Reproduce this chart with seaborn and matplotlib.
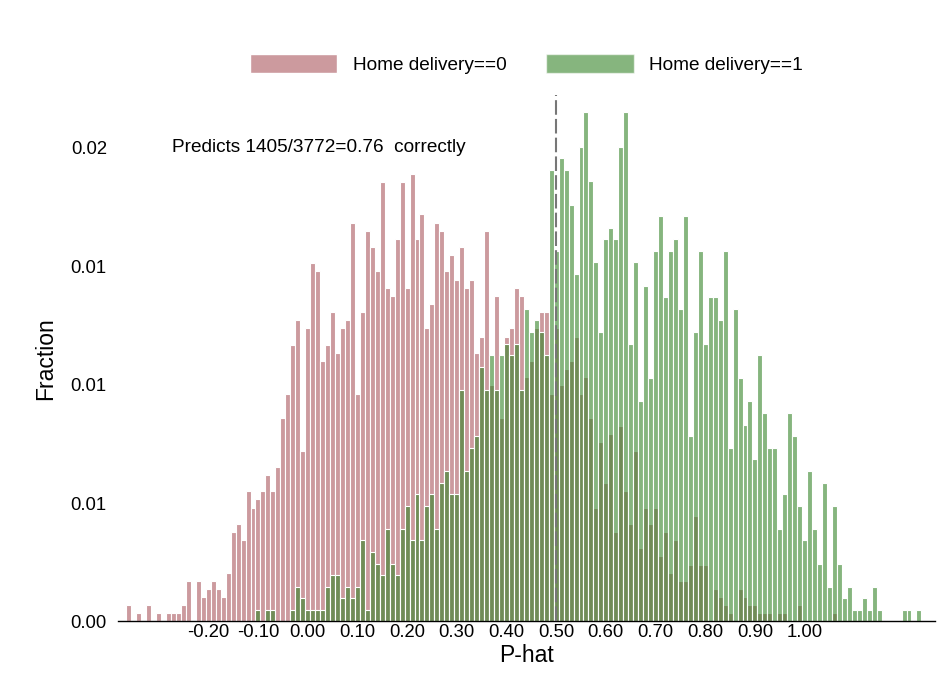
import numpy as np
import pandas as pd
import matplotlib
matplotlib.use("Agg")
import matplotlib.pyplot as plt
from matplotlib.patches import Patch
import seaborn as sns

# counts per bin (bins of width 0.01 centred on -0.36 ... 1.23)
red_counts = [
    2, 0, 1, 0, 2, 0, 1, 0, 1, 1, 1, 2, 5, 0, 5, 3, 4, 5, 4, 3,
    6, 11, 12, 10, 16, 14, 15, 16, 18, 16, 19, 25, 28, 34, 37, 21, 36, 44, 43, 32,
    34, 38, 33, 36, 37, 49, 28, 38, 48, 46, 43, 54, 41, 40, 47, 54, 41, 55, 47, 50,
    36, 39, 49, 48, 43, 45, 42, 46, 41, 42, 33, 35, 48, 29, 40, 25, 35, 36, 41, 40,
    30, 32, 36, 38, 38, 28, 36, 29, 31, 32, 35, 28, 30, 25, 14, 22, 17, 23, 11, 24,
    16, 12, 21, 9, 14, 12, 14, 8, 11, 6, 10, 5, 5, 7, 13, 7, 7, 0, 4, 3,
    2, 1, 0, 4, 3, 2, 2, 1, 1, 1, 0, 1, 1, 0, 0, 2, 0, 0, 0, 0,
    0, 0, 1, 0, 0, 0, 0, 0, 0, 0, 0, 0, 0, 0, 0, 0, 0, 0, 0, 0,
]
green_counts = [
    0, 0, 0, 0, 0, 0, 0, 0, 0, 0, 0, 0, 0, 0, 0, 0, 0, 0, 0, 0,
    0, 0, 0, 0, 0, 0, 1, 0, 1, 1, 0, 0, 0, 1, 3, 2, 1, 1, 1, 1,
    3, 4, 4, 2, 3, 2, 3, 7, 1, 6, 5, 4, 8, 5, 4, 8, 10, 7, 11, 7,
    10, 11, 8, 12, 13, 11, 11, 20, 13, 15, 16, 22, 20, 23, 20, 23, 24, 23, 24, 20,
    27, 25, 26, 25, 23, 39, 32, 40, 39, 36, 30, 41, 44, 38, 31, 25, 33, 34, 33, 41,
    44, 24, 31, 19, 29, 21, 32, 35, 28, 32, 33, 27, 35, 16, 25, 32, 24, 28, 28, 26,
    32, 15, 27, 21, 17, 19, 14, 23, 18, 15, 15, 8, 11, 18, 16, 10, 7, 13, 8, 5,
    12, 3, 10, 5, 2, 3, 1, 1, 2, 1, 3, 1, 0, 0, 0, 0, 1, 1, 0, 1,
]
x_ticks = [-0.2, -0.1, 0.0, 0.1, 0.2, 0.3, 0.4, 0.5, 0.6, 0.7, 0.8, 0.9, 1.0]
y_ticks = [0, 0.005, 0.01, 0.015, 0.02]
labels = ["Home delivery==0", "Home delivery==1"]
note = "Predicts 1405/3772=0.76  correctly"
cutoff = 0.5

bin_lo, bin_hi, bin_w = -0.365, 1.235, 0.01
centers = np.linspace(bin_lo, bin_hi, len(red_counts) + 1)[:-1] + bin_w / 2

df = pd.DataFrame({
    "phat": centers,
    "red": np.array(red_counts) / sum(red_counts),
    "green": np.array(green_counts) / sum(green_counts),
})

sns.set_style("white")
plt.rcParams["font.family"] = ["Liberation Sans", "DejaVu Sans"]
plt.rcParams["text.color"] = "black"
plt.rcParams["axes.labelcolor"] = "black"
plt.rcParams["xtick.color"] = "black"
plt.rcParams["ytick.color"] = "black"

red_col = "#cc9a9e"
green_col = "#358429"
green_alpha = 0.6

fig = plt.figure(figsize=(9.49, 6.98), dpi=100)
ax = fig.add_axes([0.1243, 0.1096, 0.8609, 0.7543])

sns.histplot(data=df, x="phat", weights="red", binwidth=bin_w,
             binrange=(bin_lo, bin_hi), stat="count",
             color=red_col, alpha=1, edgecolor="white", linewidth=0.8, ax=ax)
sns.histplot(data=df, x="phat", weights="green", binwidth=bin_w,
             binrange=(bin_lo, bin_hi), stat="count",
             color=green_col, alpha=green_alpha, edgecolor="white", linewidth=0.8, ax=ax)

ax.axvline(cutoff, color="#777777", lw=1.5, ls=(0, (7, 2)), zorder=5)

ax.set_xlim(-0.3817, 1.2622)
ax.set_ylim(0, 0.02222)
ax.set_xticks(x_ticks)
ax.set_xticklabels([f"{t:.2f}" for t in x_ticks])
ax.set_yticks(y_ticks)
ax.set_yticklabels([f"{t:.2f}" for t in y_ticks])
ax.tick_params(axis="x", length=0, pad=2, labelsize=13.3, labelcolor="black")
ax.tick_params(axis="y", length=0, pad=8, labelsize=13.3, labelcolor="black")
ax.set_xlabel("P-hat", fontsize=16.5, labelpad=2, color="black")
ax.set_ylabel("Fraction", fontsize=16.5, labelpad=10, color="black")

sns.despine(ax=ax, left=True)
ax.spines["bottom"].set_color("black")
ax.spines["bottom"].set_linewidth(1.0)

ax.text(-0.273, 0.02, note, fontsize=13.7, ha="left", va="center", color="black")

handles = [Patch(facecolor=red_col, edgecolor="white"),
           Patch(facecolor=green_col, alpha=green_alpha, edgecolor="white")]
fig.legend(handles, labels, loc="center", bbox_to_anchor=(0.5547, 0.908),
           ncol=2, frameon=False, fontsize=13.7, handlelength=4.6,
           handleheight=1.16, handletextpad=0.8, columnspacing=2.1,
           labelcolor="black")

fig.savefig("out.png", dpi=100)
